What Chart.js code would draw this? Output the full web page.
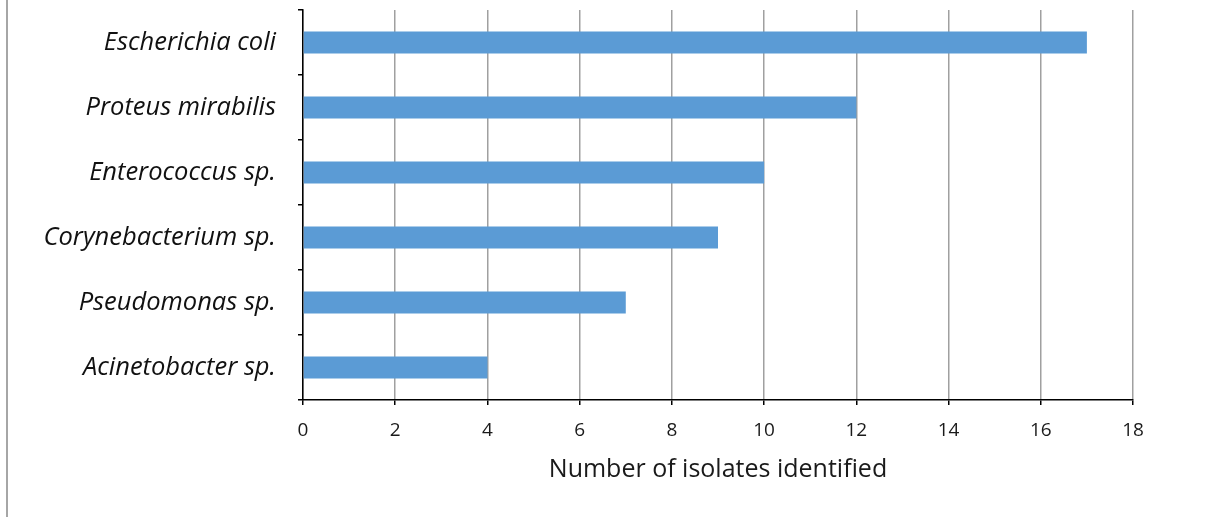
<!DOCTYPE html>
<html>
<head>
<meta charset="utf-8">
<script src="https://cdn.jsdelivr.net/npm/chart.js@4"></script>
<style>
    html, body { margin: 0; padding: 0; background: #fff; }
    #wrap { position: relative; width: 1223px; height: 517px; }
    #edge { position: absolute; left: 6px; top: 0; width: 2px; height: 517px; background: #a6a6a6; }
</style>
</head>
<body>
<div id="wrap">
    <div id="edge"></div>
    <canvas id="isolates-chart" width="1223" height="517"></canvas>
</div>
<script>
const species = ['Escherichia coli', 'Proteus mirabilis', 'Enterococcus sp.', 'Corynebacterium sp.', 'Pseudomonas sp.', 'Acinetobacter sp.'];
const isolateCounts = [17, 12, 10, 9, 7, 4];
const xTicks = [0, 2, 4, 6, 8, 10, 12, 14, 16, 18];

document.addEventListener('DOMContentLoaded', function() {
    const ctx = document.getElementById('isolates-chart').getContext('2d');

    new Chart(ctx, {
        type: 'bar',
        data: {
            labels: species,
            datasets: [{
                label: 'Number of isolates identified',
                data: isolateCounts,
                backgroundColor: '#5b9bd5',
                borderWidth: 0,
                categoryPercentage: 1,
                barPercentage: 0.34
            }]
        },
        options: {
            indexAxis: 'y',
            responsive: false,
            animation: false,
            layout: {
                padding: { left: 0, top: 10, right: 90, bottom: 0 }
            },
            scales: {
                x: {
                    min: xTicks[0],
                    max: xTicks[xTicks.length - 1],
                    afterBuildTicks: function(scale) {
                        scale.ticks = xTicks.map(v => ({ value: v }));
                    },
                    afterFit: function(scale) {
                        scale.height = 117;
                        scale.paddingLeft = 0;
                        scale.paddingRight = 0;
                    },
                    border: { color: '#000', width: 1.5 },
                    grid: {
                        color: '#a0a0a0',
                        lineWidth: 1.5,
                        tickColor: '#000',
                        tickLength: 5
                    },
                    ticks: {
                        color: '#1a1a1a',
                        padding: 14,
                        font: { family: 'Open Sans', size: 19 }
                    },
                    title: {
                        display: true,
                        text: 'Number of isolates identified',
                        color: '#1a1a1a',
                        padding: { top: 8, bottom: 32 },
                        font: { family: 'Open Sans', size: 25 }
                    }
                },
                y: {
                    afterFit: function(scale) {
                        scale.width = 303;
                        scale.paddingTop = 0;
                        scale.paddingBottom = 0;
                    },
                    border: { color: '#000', width: 1.5 },
                    grid: {
                        offset: true,
                        drawOnChartArea: false,
                        color: '#000',
                        lineWidth: 1.5,
                        tickLength: 5
                    },
                    ticks: {
                        color: '#111',
                        padding: 22,
                        font: { family: 'Open Sans', size: 25.5, style: 'italic' }
                    }
                }
            },
            plugins: {
                legend: { display: false },
                tooltip: { enabled: false }
            }
        }
    });
});
</script>
</body>
</html>
